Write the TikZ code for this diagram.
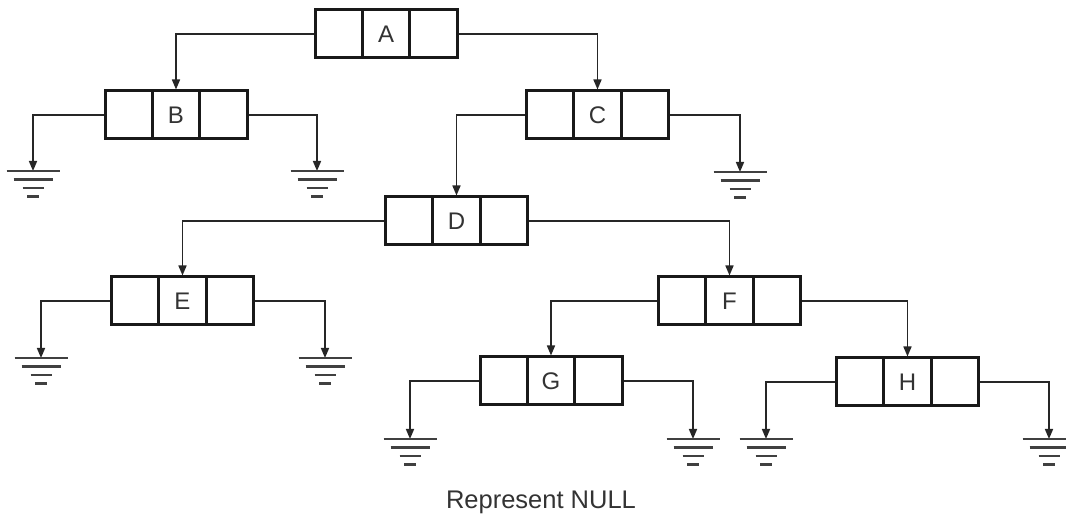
\documentclass[tikz,border=0pt]{standalone}
\usepackage{fontspec}
\setmainfont{Liberation Sans}
\usetikzlibrary{arrows.meta}
\tikzset{
  cellbox/.style={draw=black!90, line width=3pt, minimum width=142pt, minimum height=48pt,
    inner sep=0pt, font=\fontsize{24}{26}\selectfont, text=black!80},
  divider/.style={draw=black!90, line width=3pt},
  link/.style={draw=black!85, line width=1.6pt, -{Triangle[length=10pt,width=8pt]}},
  gnd/.style={draw=black!75, line width=2.6pt},
}
\newcommand{\listnode}[4]{%
  \node[cellbox] (#1) at (#2pt,-#3pt) {#4};
  \draw[divider] ([xshift=-23.7pt]#1.north) -- ([xshift=-23.7pt]#1.south);
  \draw[divider] ([xshift=23.7pt]#1.north) -- ([xshift=23.7pt]#1.south);
}
\newcommand{\groundsym}[1]{%
  \draw[gnd] ([xshift=-26.5pt]#1) -- ([xshift=26.5pt]#1);
  \draw[gnd] ([xshift=-19.5pt,yshift=-8.5pt]#1) -- ([xshift=19.5pt,yshift=-8.5pt]#1);
  \draw[gnd] ([xshift=-10.5pt,yshift=-17pt]#1) -- ([xshift=10.5pt,yshift=-17pt]#1);
  \draw[gnd] ([xshift=-6pt,yshift=-25.5pt]#1) -- ([xshift=6pt,yshift=-25.5pt]#1);
}
\begin{document}
\begin{tikzpicture}[x=1pt,y=1pt]
\useasboundingbox (0,0) rectangle (1066,-518);
\fill[white] (0,0) rectangle (1066,-518);
\listnode{A}{386}{34}{A}
\listnode{B}{176}{115}{B}
\listnode{C}{597.5}{115}{C}
\listnode{D}{456.5}{221}{D}
\listnode{E}{182.5}{301}{E}
\listnode{F}{729.5}{301}{F}
\listnode{G}{551}{381}{G}
\listnode{H}{907.5}{382}{H}
% ground points
\coordinate (gB1) at (33,-171);
\coordinate (gB2) at (317,-171);
\coordinate (gC2) at (740,-172);
\coordinate (gE1) at (41,-358);
\coordinate (gE2) at (325,-358);
\coordinate (gG1) at (410,-439);
\coordinate (gG2) at (693,-439);
\coordinate (gH1) at (766,-439);
\coordinate (gH2) at (1049,-439);
% tree links
\draw[link] (A.west) -| (B.north);
\draw[link] (A.east) -| (C.north);
\draw[link] (C.west) -| (D.north);
\draw[link] (D.west) -| (E.north);
\draw[link] (D.east) -| (F.north);
\draw[link] (F.west) -| (G.north);
\draw[link] (F.east) -| (H.north);
% null links
\draw[link] (B.west) -| (gB1);
\draw[link] (B.east) -| (gB2);
\draw[link] (C.east) -| (gC2);
\draw[link] (E.west) -| (gE1);
\draw[link] (E.east) -| (gE2);
\draw[link] (G.west) -| (gG1);
\draw[link] (G.east) -| (gG2);
\draw[link] (H.west) -| (gH1);
\draw[link] (H.east) -| (gH2);
\foreach \g in {gB1,gB2,gC2,gE1,gE2,gG1,gG2,gH1,gH2} {\groundsym{\g}}
\node[font=\fontsize{25.5}{28}\selectfont, text=black!80] (caption) at (541,-502) {Represent NULL};
\end{tikzpicture}
\end{document}
